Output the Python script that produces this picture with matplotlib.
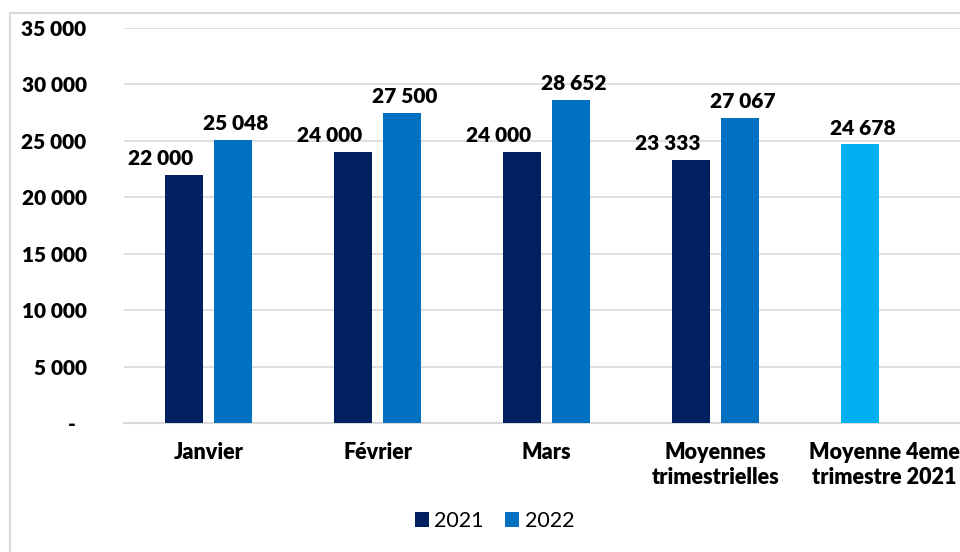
import numpy as np
import matplotlib.pyplot as plt
from matplotlib.patches import Rectangle
from matplotlib.transforms import ScaledTranslation

categories = ['Janvier', 'Février', 'Mars', 'Moyennes\ntrimestrielles', 'Moyenne 4eme\ntrimestre 2021']
vals_2021 = [22000, 24000, 24000, 23333]
vals_2022 = [25048, 27500, 28652, 27067]
val_t4 = 24678
yticks = [0, 5000, 10000, 15000, 20000, 25000, 30000, 35000]

c2021 = '#002060'
c2022 = '#0070C0'
ct4 = '#00B0F0'
grid = '#D9D9D9'

def fmt(v):
    return '{:,}'.format(int(round(v))).replace(',', ' ')

plt.rcParams['font.family'] = ['Lato', 'DejaVu Sans']

fig = plt.figure(figsize=(9.6, 5.52), dpi=100)
ax = fig.add_axes([124/960, 1-423/552, 845/960, (423-28)/552])

x = np.arange(len(categories))
w = 0.225
off = 0.145
b1 = ax.bar(x[:4] - off, vals_2021, w, color=c2021, label='2021', zorder=3)
b2 = ax.bar(x[:4] + off, vals_2022, w, color=c2022, label='2022', zorder=3)
b3 = ax.bar(x[4] - off, val_t4, w, color=ct4, zorder=3)

lab_kw = dict(textcoords='offset points', ha='center', va='bottom',
              fontsize=15, fontweight='heavy', color='black')
for r, v in zip(b1, vals_2021):
    ax.annotate(fmt(v), (r.get_x() + r.get_width()/2, v), xytext=(-17, 5), **lab_kw)
for r, v in zip(b2, vals_2022):
    ax.annotate(fmt(v), (r.get_x() + r.get_width()/2, v), xytext=(2, 5), **lab_kw)
ax.annotate(fmt(val_t4), (b3[0].get_x() + b3[0].get_width()/2, val_t4), xytext=(2, 5), **lab_kw)

ax.set_xlim(-0.5, len(categories) - 0.5)
ax.set_ylim(0, 35000)
ax.set_yticks(yticks)
ax.set_yticklabels(['-'] + [fmt(v) for v in yticks[1:]])
ax.set_xticks(x)
ax.set_xticklabels(categories)
ax.tick_params(axis='y', length=0, labelsize=15, pad=27)
ax.tick_params(axis='x', length=0, labelsize=15.5, pad=14)
for lbl in ax.get_xticklabels() + ax.get_yticklabels():
    lbl.set_fontweight('heavy')
zl = ax.get_yticklabels()[0]
zl.set_transform(zl.get_transform() + ScaledTranslation(-0.11, 0, fig.dpi_scale_trans))

ax.grid(axis='y', color=grid, linewidth=1.2, zorder=0)
for s in ['top', 'right', 'left']:
    ax.spines[s].set_visible(False)
ax.spines['bottom'].set_color(grid)
ax.spines['bottom'].set_linewidth(1.5)

fig.patches.append(Rectangle((10/960, -0.02), 1.0, 1 - 13/552 + 0.02,
                             transform=fig.transFigure, fill=False,
                             edgecolor=grid, linewidth=1.5, zorder=0))

fig.legend(handles=[b1, b2], labels=['2021', '2022'], loc='center',
           bbox_to_anchor=(0.515, 1 - 521/552), ncol=2, frameon=False,
           fontsize=15.5, handlelength=0.65, handleheight=0.65,
           handletextpad=0.25, columnspacing=1.0)

fig.savefig('out.png', dpi=100)
